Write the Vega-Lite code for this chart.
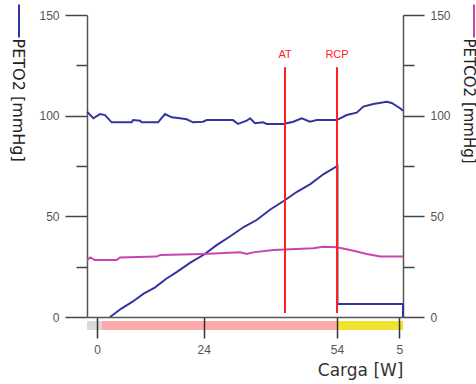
{
  "$schema": "https://vega.github.io/schema/vega-lite/v6.json",
  "width": 316,
  "height": 302,
  "autosize": "none",
  "padding": {"left": 87, "top": 15, "right": 73, "bottom": 67},
  "background": "white",
  "config": {
    "view": {"stroke": null},
    "font": "Liberation Sans",
    "axis": {"labelFont": "Liberation Sans", "titleFont": "DejaVu Sans", "grid": false}
  },
  "datasets": {
    "peto2": [
      {"carga": -2.25, "value": 102}, {"carga": -0.83, "value": 98.7}, {"carga": 0.68, "value": 100.8},
      {"carga": 1.8, "value": 100.3}, {"carga": 3.31, "value": 96.7}, {"carga": 7.81, "value": 96.7},
      {"carga": 8.1, "value": 97.8}, {"carga": 9.68, "value": 97.5}, {"carga": 10.06, "value": 96.7},
      {"carga": 13.73, "value": 96.7}, {"carga": 15.3, "value": 100.8}, {"carga": 16.81, "value": 99.2},
      {"carga": 18.68, "value": 98.7}, {"carga": 20.18, "value": 98.2}, {"carga": 21.6, "value": 96.7},
      {"carga": 23.85, "value": 97.0}, {"carga": 24.68, "value": 97.8}, {"carga": 30.6, "value": 97.8},
      {"carga": 31.73, "value": 95.9}, {"carga": 33.69, "value": 97.5}, {"carga": 34.43, "value": 98.7},
      {"carga": 35.55, "value": 96.2}, {"carga": 37.35, "value": 96.7}, {"carga": 38.19, "value": 95.9},
      {"carga": 41.92, "value": 95.9}, {"carga": 44.17, "value": 97.0}, {"carga": 46.06, "value": 98.7},
      {"carga": 47.93, "value": 97.0}, {"carga": 49.44, "value": 97.8}, {"carga": 53.94, "value": 97.8},
      {"carga": 56.19, "value": 100.3}, {"carga": 58.44, "value": 101.5}, {"carga": 59.92, "value": 104.5},
      {"carga": 62.17, "value": 105.8}, {"carga": 65.19, "value": 106.9}, {"carga": 66.31, "value": 106.3},
      {"carga": 68.18, "value": 103.7}, {"carga": 68.85, "value": 102.5}
    ],
    "petco2": [
      {"carga": -2.25, "value": 28.3}, {"carga": -1.5, "value": 29.6}, {"carga": -0.5, "value": 28.3},
      {"carga": 4.4, "value": 28.3}, {"carga": 5.2, "value": 29.6}, {"carga": 13.4, "value": 30.0},
      {"carga": 14.2, "value": 30.8}, {"carga": 23.9, "value": 31.3}, {"carga": 32.2, "value": 32.1},
      {"carga": 33.7, "value": 31.3}, {"carga": 35.1, "value": 32.1}, {"carga": 39.7, "value": 33.3},
      {"carga": 48.7, "value": 34.1}, {"carga": 50.9, "value": 34.9}, {"carga": 53.9, "value": 34.6},
      {"carga": 56.2, "value": 33.6}, {"carga": 58.4, "value": 32.5}, {"carga": 60.7, "value": 31.3},
      {"carga": 63.7, "value": 30.0}, {"carga": 68.85, "value": 30.0}
    ],
    "ramp": [
      {"i": 1, "carga": 2.93, "value": 0}, {"i": 2, "carga": 5.5, "value": 4.2},
      {"i": 3, "carga": 8, "value": 7.6}, {"i": 4, "carga": 10.5, "value": 11.6},
      {"i": 5, "carga": 13, "value": 14.6}, {"i": 6, "carga": 15.5, "value": 18.9},
      {"i": 7, "carga": 18, "value": 22.4}, {"i": 8, "carga": 21, "value": 27.0},
      {"i": 9, "carga": 24, "value": 30.9}, {"i": 10, "carga": 27, "value": 35.8},
      {"i": 11, "carga": 30, "value": 40.1}, {"i": 12, "carga": 33, "value": 44.7},
      {"i": 13, "carga": 36, "value": 48.3}, {"i": 14, "carga": 39, "value": 53.4},
      {"i": 15, "carga": 42, "value": 57.6}, {"i": 16, "carga": 45, "value": 62.2},
      {"i": 17, "carga": 48, "value": 66.0}, {"i": 18, "carga": 51, "value": 71.0},
      {"i": 19, "carga": 54.1, "value": 75},
      {"i": 20, "carga": 54.1, "value": 6.5}, {"i": 21, "carga": 68.85, "value": 6.5},
      {"i": 22, "carga": 68.85, "value": 0}
    ],
    "phases": [
      {"phase": "Reposo", "start": -2.25, "end": 1.1},
      {"phase": "Ejercicio", "start": 1.1, "end": 54},
      {"phase": "Recuperación", "start": 54, "end": 68.85}
    ],
    "events": [
      {"event": "AT", "carga": 42.3},
      {"event": "RCP", "carga": 54}
    ]
  },
  "resolve": {"axis": {"y": "independent"}, "scale": {"color": "independent", "stroke": "independent"}},
  "layer": [
    {
      "data": {"name": "phases"},
      "mark": {"type": "rect"},
      "encoding": {
        "x": {"field": "start", "type": "quantitative", "scale": {"domain": [-2.25, 68.85], "nice": false, "zero": false},
          "axis": {"values": [0, 24, 54, 68], "labelExpr": "datum.value == 68 ? '5' : datum.label", "title": "Carga [W]",
            "titleAnchor": "end", "titleAlign": "right", "titleFontSize": 17, "titleFontWeight": "normal", "titleColor": "#333",
            "titlePadding": 7, "domainColor": "#555", "domainWidth": 1.5, "tickColor": "#333", "tickWidth": 1.5,
            "tickSize": 21, "labelFontSize": 12, "labelColor": "#555", "labelPadding": 6, "zindex": 1}},
        "x2": {"field": "end"},
        "y": {"datum": -2, "type": "quantitative", "axis": null},
        "y2": {"datum": -6.5},
        "color": {"field": "phase", "type": "nominal", "legend": null,
          "scale": {"domain": ["Reposo", "Ejercicio", "Recuperación"], "range": ["#d9d9d9", "#ffaaaa", "#f0e22e"]}}
      }
    },
    {
      "data": {"name": "peto2"},
      "mark": {"type": "line", "strokeWidth": 2},
      "encoding": {
        "x": {"field": "carga", "type": "quantitative"},
        "y": {"field": "value", "type": "quantitative", "scale": {"domain": [0, 150], "nice": false},
          "axis": {"orient": "left", "values": [0, 25, 50, 75, 100, 125, 150],
            "labelExpr": "datum.value % 50 === 0 ? datum.label : ''",
            "tickSize": {"condition": {"test": "datum.value % 50 === 0", "value": 22}, "value": 11},
            "labelPadding": 6, "labelFontSize": 12, "labelColor": "#555",
            "domainColor": "#555", "domainWidth": 1.5, "tickColor": "#444", "tickWidth": 1.5,
            "title": "PETO2 [mmHg]", "titleAngle": 90, "titleFontSize": 16, "titleFontWeight": "normal", "titleColor": "#222",
            "titleX": -70, "titleY": 23, "titleAlign": "left", "titleBaseline": "middle"}},
        "stroke": {"datum": "PETO2", "type": "nominal", "scale": {"range": ["#3434a0"]},
          "legend": {"orient": "none", "legendX": -86, "legendY": -12, "title": null, "labelExpr": "''", "labelFontSize": 0,
            "symbolType": "M0,-1L0,1", "symbolSize": 1100, "symbolStrokeWidth": 2, "padding": 0}}
      }
    },
    {
      "data": {"name": "ramp"},
      "mark": {"type": "line", "strokeWidth": 2, "color": "#3434a0"},
      "encoding": {
        "x": {"field": "carga", "type": "quantitative"},
        "y": {"field": "value", "type": "quantitative", "axis": null},
        "order": {"field": "i", "type": "quantitative"}
      }
    },
    {
      "data": {"name": "petco2"},
      "mark": {"type": "line", "strokeWidth": 2},
      "encoding": {
        "x": {"field": "carga", "type": "quantitative"},
        "y": {"field": "value", "type": "quantitative",
          "axis": {"orient": "right", "values": [0, 25, 50, 75, 100, 125, 150],
            "labelExpr": "datum.value % 50 === 0 ? datum.label : ''",
            "tickSize": {"condition": {"test": "datum.value % 50 === 0", "value": 21}, "value": 11},
            "labelPadding": 6, "labelFontSize": 12, "labelColor": "#555",
            "domainColor": "#555", "domainWidth": 1.5, "tickColor": "#444", "tickWidth": 1.5,
            "title": "PETCO2 [mmHg]", "titleAngle": 90, "titleFontSize": 15, "titleFontWeight": "normal", "titleColor": "#222",
            "titleX": 65, "titleY": 23, "titleAlign": "left", "titleBaseline": "middle"}},
        "color": {"datum": "PETCO2", "type": "nominal", "scale": {"range": ["#c844b0"]},
          "legend": {"orient": "none", "legendX": 369, "legendY": -12, "title": null, "labelExpr": "''", "labelFontSize": 0,
            "symbolType": "M0,-1L0,1", "symbolSize": 1100, "symbolStrokeWidth": 2, "padding": 0}}
      }
    },
    {
      "data": {"name": "events"},
      "mark": {"type": "rule", "color": "#ff2020", "strokeWidth": 2},
      "encoding": {
        "x": {"field": "carga", "type": "quantitative"},
        "y": {"datum": 124, "type": "quantitative", "axis": null},
        "y2": {"datum": 2}
      }
    },
    {
      "data": {"name": "events"},
      "mark": {"type": "text", "color": "#ff2020", "fontSize": 11, "baseline": "middle", "align": "center"},
      "encoding": {
        "x": {"field": "carga", "type": "quantitative"},
        "y": {"datum": 130, "type": "quantitative", "axis": null},
        "text": {"field": "event"}
      }
    }
  ]
}
